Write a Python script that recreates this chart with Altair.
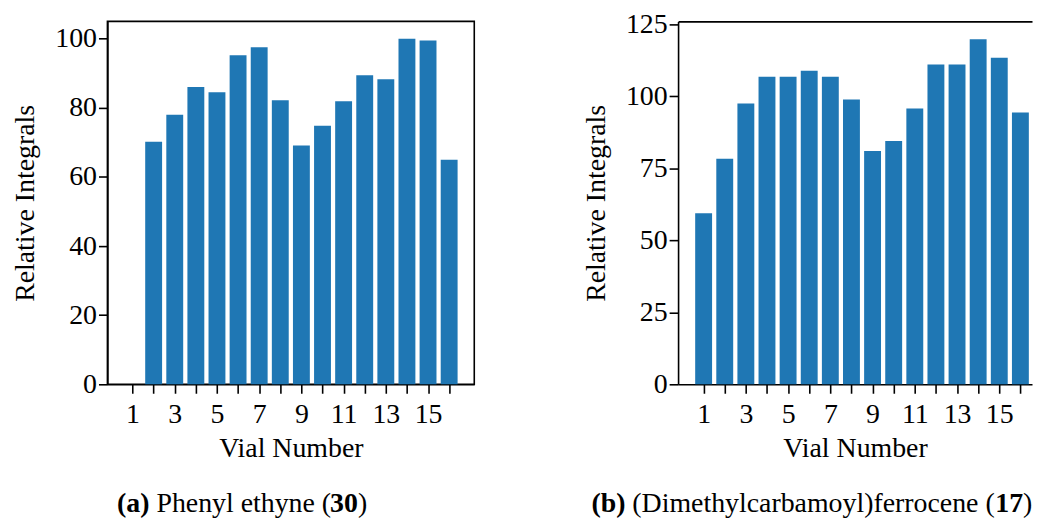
import altair as alt
import pandas as pd

# ---- data ----
vials = list(range(1, 17))
phenyl_ethyne = [0, 70.2, 78.0, 86.0, 84.5, 95.2, 97.5, 82.2, 69.1, 74.8, 81.9, 89.4, 88.3, 100.0, 99.5, 65.0]
ferrocene = [59.4, 78.3, 97.5, 106.8, 106.8, 108.9, 106.8, 98.9, 81.0, 84.5, 95.8, 111.0, 111.0, 119.8, 113.4, 94.4]
x_ticks = vials
y_ticks_a = [0, 20, 40, 60, 80, 100]
y_ticks_b = [0, 25, 50, 75, 100, 125]
caption_a = ["(a)", "Phenyl ethyne (", "30", ")"]
caption_b = ["(b)", "(Dimethylcarbamoyl)ferrocene (", "17", ")"]

FONT = "Liberation Serif"
BLUE = "#1f77b4"
FS = 28
PLOT_H = 365


def caption_layers(chunks, xs, base):
    weights = ["bold", "normal", "bold", "normal"]
    layers = []
    for txt, xp, w in zip(chunks, xs, weights):
        layers.append(
            base.mark_text(text=txt, font=FONT, fontSize=FS, fontWeight=w, align="left",
                           baseline="alphabetic", color="black")
            .encode(x=alt.value(xp), y=alt.value(493))
            .transform_filter("datum.vial == 1")
        )
    return layers


def panel(values, ydom, yticks, xdom, width, chunks, cap_x, top_axis):
    df = pd.DataFrame({"vial": vials, "value": values})
    base = alt.Chart(df).transform_calculate(x0="datum.vial - 0.4", x1="datum.vial + 0.4")
    xscale = alt.Scale(domain=xdom, nice=False, zero=False)
    bars = base.mark_bar(color=BLUE).encode(
        x=alt.X("x0:Q", scale=xscale,
                axis=alt.Axis(values=x_ticks, labelExpr="datum.value % 2 == 1 ? datum.label : ''",
                              title="Vial Number", labelPadding=7, titlePadding=7,
                              labelOverlap=False, labelFlush=False)),
        x2="x1:Q",
        y=alt.Y("value:Q", scale=alt.Scale(domain=ydom, nice=False),
                axis=alt.Axis(values=yticks, title="Relative Integrals", labelPadding=2,
                              titlePadding=15, labelOverlap=False, labelFlush=False)),
        y2=alt.datum(0),
    )
    layers = [bars]
    if top_axis:
        layers.append(
            base.mark_point(opacity=0).encode(
                x=alt.X("x0:Q", scale=xscale,
                        axis=alt.Axis(orient="top", labels=False, ticks=False, title=None, domain=True))
            )
        )
    layers += caption_layers(chunks, cap_x, base)
    ch = alt.layer(*layers).properties(width=width, height=PLOT_H)
    if top_axis:
        ch = ch.resolve_axis(x="independent")
    else:
        ch = ch.properties(view=alt.ViewBackground(stroke="black", strokeWidth=1.6, strokeOpacity=1))
    return ch


left = panel(phenyl_ethyne, [0, 105], y_ticks_a, [-0.19, 17.19], 369,
             caption_a, [9.7, 49.3, 224, 252], top_axis=False)
right = panel(ferrocene, [0, 126], y_ticks_b, [-0.21, 16.55], 356,
              caption_b, [-87, -46, 319, 347], top_axis=True)

chart = (
    alt.hconcat(left, right, spacing=108)
    .properties(padding={"left": 3, "top": 0, "right": 0, "bottom": 0})
    .configure_view(strokeOpacity=0)
    .configure_axis(labelFont=FONT, titleFont=FONT, labelFontSize=FS, titleFontSize=FS,
                    labelColor="black", titleColor="black", tickColor="black", domainColor="black",
                    tickWidth=1.6, domainWidth=1.6, tickSize=9, grid=False, titleFontWeight="normal")
)

chart.save("out.html", embed_options={"renderer": "svg", "actions": False})
